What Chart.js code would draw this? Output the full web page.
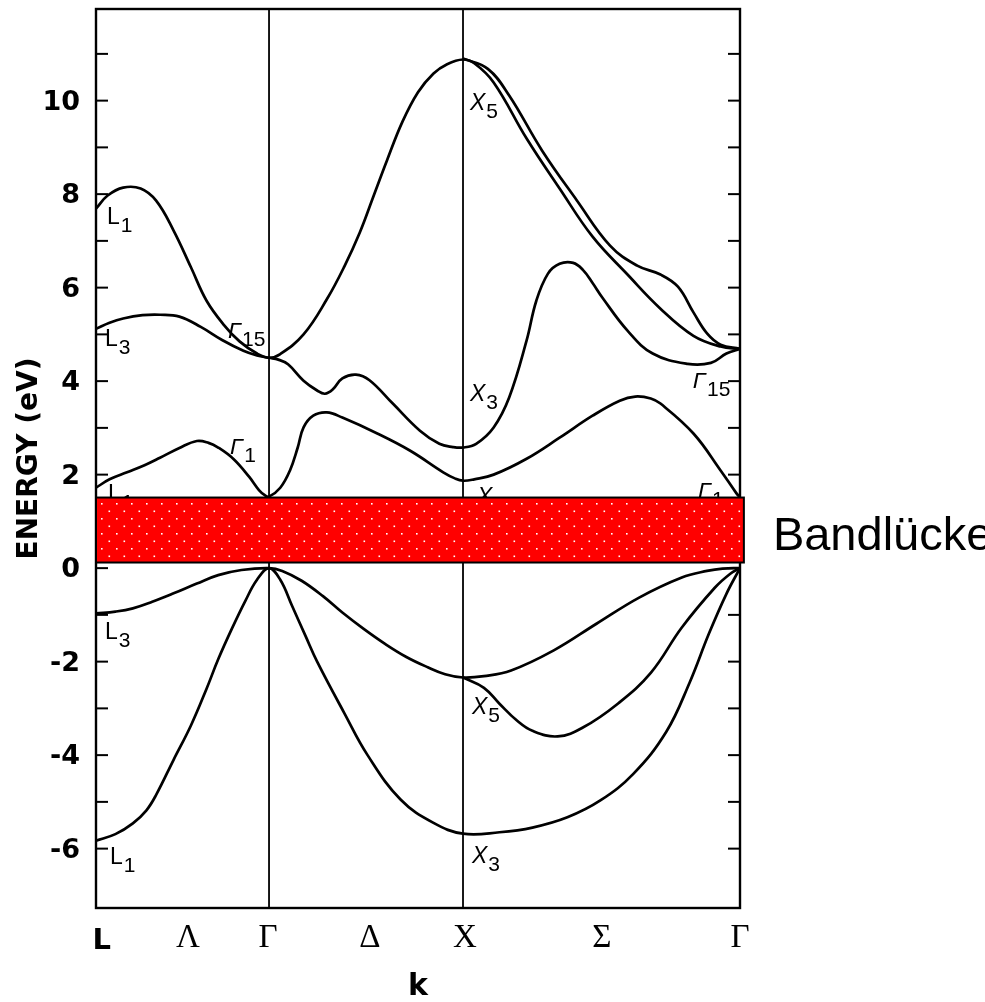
<!DOCTYPE html>
<html>
<head>
<meta charset="utf-8">
<script src="https://cdn.jsdelivr.net/npm/chart.js"></script>
<style>
  body { margin: 0; background: #fff; }
  canvas { display: block; }
</style>
</head>
<body>
<canvas id="bandChart" width="985" height="1002"></canvas>
<script>
// k path L - Γ - X - Γ (Γ-X distance = 1)
const symPoints = [0, 0.892, 1.892, 3.32];
const kLabels = ['L', 'Λ', 'Γ', 'Δ', 'Χ', 'Σ', 'Γ'];
const kLabelPos = [0.03, 0.474, 0.887, 1.412, 1.902, 2.608, 3.32];
const energyRange = [-7.27, 11.96];
const energyTicks = [-6, -5, -4, -3, -2, -1, 0, 1, 2, 3, 4, 5, 6, 7, 8, 9, 10, 11];

// bands as [k, E in eV]
const valence1 = [[0,-5.83],[0.10,-5.69],[0.19,-5.46],[0.26,-5.18],[0.31,-4.85],[0.40,-4.10],[0.49,-3.36],[0.57,-2.58],[0.63,-1.95],[0.70,-1.30],[0.77,-0.70],[0.83,-0.25],[0.892,0],
  [0.95,-0.25],[1.01,-0.80],[1.08,-1.45],[1.14,-2.00],[1.28,-3.10],[1.40,-4.00],[1.57,-4.95],[1.74,-5.45],[1.892,-5.68],
  [2.08,-5.65],[2.25,-5.55],[2.43,-5.33],[2.60,-4.97],[2.77,-4.40],[2.94,-3.50],[3.06,-2.45],[3.16,-1.40],[3.25,-0.55],[3.32,0]];
const valence2 = [[0,-0.97],[0.10,-0.93],[0.19,-0.86],[0.29,-0.72],[0.40,-0.54],[0.52,-0.33],[0.63,-0.15],[0.75,-0.04],[0.892,0],
  [0.96,-0.06],[1.06,-0.27],[1.17,-0.60],[1.27,-0.95],[1.38,-1.30],[1.49,-1.62],[1.60,-1.90],[1.71,-2.12],[1.80,-2.27],[1.892,-2.34],
  [2.00,-2.31],[2.14,-2.19],[2.36,-1.76],[2.58,-1.19],[2.80,-0.63],[3.02,-0.20],[3.15,-0.06],[3.23,-0.01],[3.32,0]];
const valence3 = [[1.892,-2.34],[2.00,-2.56],[2.08,-2.90],[2.17,-3.26],[2.25,-3.48],[2.38,-3.60],[2.51,-3.41],[2.69,-2.90],[2.86,-2.24],[3.02,-1.27],[3.19,-0.42],[3.27,-0.12],[3.32,0]];
const conduction1 = [[0,1.72],[0.07,1.90],[0.16,2.05],[0.25,2.20],[0.33,2.36],[0.43,2.57],[0.52,2.72],[0.58,2.68],[0.63,2.58],[0.71,2.33],[0.79,1.95],[0.84,1.67],[0.87,1.56],[0.892,1.53],
  [0.95,1.72],[1.00,2.09],[1.04,2.58],[1.07,3.01],[1.12,3.26],[1.19,3.33],[1.27,3.22],[1.45,2.88],[1.62,2.51],[1.79,2.05],[1.85,1.92],[1.892,1.87],
  [1.95,1.90],[2.05,2.00],[2.22,2.34],[2.39,2.79],[2.56,3.26],[2.70,3.58],[2.78,3.67],[2.86,3.63],[2.91,3.52],[3.08,2.88],[3.22,2.09],[3.30,1.61],[3.32,1.51]];
const conduction2 = [[0,5.12],[0.07,5.25],[0.14,5.34],[0.24,5.41],[0.33,5.42],[0.43,5.38],[0.54,5.16],[0.65,4.88],[0.76,4.65],[0.83,4.55],[0.892,4.50],
  [0.94,4.46],[0.99,4.36],[1.07,4.01],[1.14,3.80],[1.18,3.73],[1.22,3.82],[1.27,4.06],[1.34,4.14],[1.41,4.02],[1.53,3.52],[1.67,2.94],[1.77,2.66],[1.84,2.59],[1.892,2.58],
  [1.96,2.66],[2.05,3.01],[2.13,3.65],[2.22,4.87],[2.27,5.72],[2.33,6.30],[2.39,6.51],[2.46,6.53],[2.51,6.38],[2.56,6.10],[2.61,5.79],[2.74,5.08],[2.87,4.59],[3.05,4.37],[3.17,4.39],[3.25,4.59],[3.32,4.69]];
const conduction3 = [[0,7.69],[0.06,7.97],[0.14,8.14],[0.23,8.12],[0.31,7.86],[0.40,7.22],[0.49,6.43],[0.57,5.72],[0.66,5.20],[0.74,4.85],[0.83,4.59],[0.892,4.50],
  [0.95,4.58],[1.07,5.00],[1.19,5.75],[1.28,6.45],[1.36,7.18],[1.43,7.95],[1.50,8.72],[1.58,9.55],[1.66,10.18],[1.74,10.58],[1.81,10.78],[1.892,10.88],
  [1.95,10.80],[2.05,10.39],[2.22,9.19],[2.39,8.12],[2.56,7.09],[2.74,6.28],[2.91,5.55],[3.08,4.97],[3.22,4.74],[3.32,4.69]];
const conduction4 = [[1.892,10.90],[2.02,10.68],[2.13,10.11],[2.30,8.93],[2.48,7.86],[2.65,6.90],[2.79,6.47],[2.91,6.28],[3.00,6.02],[3.08,5.47],[3.15,5.02],[3.22,4.78],[3.32,4.69]];

// point group labels: symbol, subscript, k, E
const pointLabels = [
  ['L','1',0.057,7.37], ['L','3',0.046,4.76], ['Γ','15',0.680,4.93], ['Γ','1',0.691,2.45], ['L','1',0.062,1.44],
  ['X','5',1.928,9.79], ['X','3',1.928,3.58], ['X','1',1.964,1.38], ['Γ','15',3.077,3.86], ['Γ','1',3.103,1.49],
  ['L','3',0.046,-1.51], ['X','5',1.938,-3.11], ['X','3',1.938,-6.30], ['L','1',0.072,-6.32]
];

// band gap box
const gapEnergy = [0.12, 1.51];
const gapK = [0, 3.34];
const gapLabel = 'Bandlücke';

const bands = [valence1, valence2, valence3, conduction1, conduction2, conduction3, conduction4];

function dotPattern(ctx) {
  const c = document.createElement('canvas');
  c.width = 15; c.height = 15;
  const p = c.getContext('2d');
  p.fillStyle = '#ff0000';
  p.fillRect(0, 0, 15, 15);
  p.fillStyle = '#ffffff';
  p.fillRect(3.5, 0.5, 1.6, 1.6);
  p.fillRect(11, 8, 1.6, 1.6);
  return ctx.createPattern(c, 'repeat');
}

const overlay = {
  id: 'overlay',
  afterDatasetsDraw(chart) {
    const {ctx, chartArea: a, scales: {x, y}} = chart;
    const line = (x0, y0, x1, y1) => { ctx.beginPath(); ctx.moveTo(x0, y0); ctx.lineTo(x1, y1); ctx.stroke(); };
    ctx.save();
    ctx.strokeStyle = '#000';
    ctx.lineWidth = 1.8;
    [symPoints[1], symPoints[2]].forEach(k => {
      const px = x.getPixelForValue(k);
      line(px, a.top, px, a.bottom);
    });
    ctx.lineWidth = 2;
    energyTicks.forEach(v => {
      const py = y.getPixelForValue(v);
      line(a.left, py, a.left + 12, py);
      line(a.right - 12, py, a.right, py);
    });
    ctx.lineWidth = 2.4;
    ctx.strokeRect(a.left, a.top, a.right - a.left, a.bottom - a.top);

    ctx.fillStyle = '#000';
    ctx.textAlign = 'left';
    ctx.textBaseline = 'alphabetic';
    pointLabels.forEach(([sym, sub, k, e]) => {
      const px = x.getPixelForValue(k), py = y.getPixelForValue(e);
      ctx.font = (sym === 'L' ? '' : 'italic ') + '23px "Liberation Sans"';
      ctx.fillText(sym, px, py);
      const w = ctx.measureText(sym).width;
      ctx.font = '21px "Liberation Sans"';
      ctx.fillText(sub, px + w + 1, py + 8);
    });

    const gx0 = x.getPixelForValue(gapK[0]), gx1 = x.getPixelForValue(gapK[1]);
    const gy0 = y.getPixelForValue(gapEnergy[1]), gy1 = y.getPixelForValue(gapEnergy[0]);
    ctx.fillStyle = dotPattern(ctx);
    ctx.fillRect(gx0, gy0, gx1 - gx0, gy1 - gy0);
    ctx.lineWidth = 2;
    ctx.strokeRect(gx0, gy0, gx1 - gx0, gy1 - gy0);

    ctx.fillStyle = '#000';
    ctx.font = '47px "Liberation Sans"';
    ctx.fillText(gapLabel, gx1 + 29, (gy0 + gy1) / 2 + 20);
    ctx.restore();
  }
};

new Chart(document.getElementById('bandChart'), {
  type: 'scatter',
  data: {
    datasets: bands.map(b => ({
      data: b.map(([k, e]) => ({x: k, y: e})),
      showLine: true,
      borderColor: '#000',
      borderWidth: 2.7,
      pointRadius: 0,
      fill: false,
      tension: 0.4
    }))
  },
  options: {
    responsive: false,
    animation: false,
    devicePixelRatio: 1,
    layout: { padding: { left: 0, right: 245, top: 9, bottom: 0 } },
    plugins: { legend: { display: false }, tooltip: { enabled: false } },
    scales: {
      x: {
        type: 'linear',
        min: symPoints[0],
        max: symPoints[3],
        grid: { display: false, drawTicks: false },
        border: { display: false },
        afterBuildTicks: s => { s.ticks = kLabelPos.map(v => ({value: v})); },
        afterFit: s => { s.height = 94; s.paddingLeft = 0; s.paddingRight = 0; },
        ticks: {
          autoSkip: false,
          maxRotation: 0,
          padding: 11,
          color: '#000',
          callback: (v, i) => kLabels[i],
          font: c => c.index === 0
            ? { family: 'DejaVu Sans', size: 29, weight: 'bold', lineHeight: 1.52 }
            : { family: 'Liberation Serif', size: 33 }
        },
        title: {
          display: true,
          text: 'k',
          color: '#000',
          padding: { top: 0, bottom: 0 },
          font: { family: 'DejaVu Sans', size: 30, weight: 'bold', lineHeight: 1 }
        }
      },
      y: {
        min: energyRange[0],
        max: energyRange[1],
        grid: { display: false, drawTicks: false },
        border: { display: false },
        afterBuildTicks: s => { s.ticks = energyTicks.map(v => ({value: v})); },
        afterFit: s => { s.width = 96; s.paddingTop = 0; s.paddingBottom = 0; },
        ticks: {
          padding: 16,
          labelOffset: 2,
          color: '#000',
          font: { family: 'DejaVu Sans', size: 27, weight: 'bold' },
          callback: v => (v % 2 === 0 ? String(v) : '')
        },
        title: {
          display: true,
          text: 'ENERGY (eV)',
          color: '#000',
          padding: { top: 13, bottom: 0 },
          font: { family: 'DejaVu Sans', size: 28, weight: 'bold' }
        }
      }
    }
  },
  plugins: [overlay]
});
</script>
</body>
</html>
